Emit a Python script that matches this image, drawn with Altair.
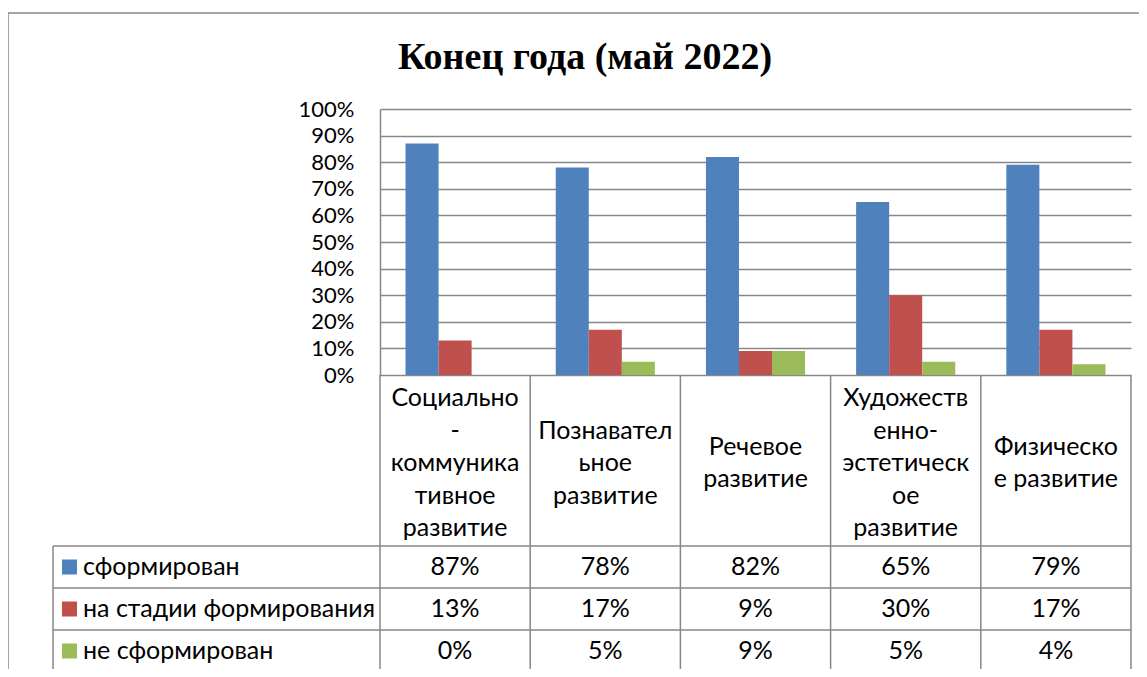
import altair as alt
import pandas as pd

# ---------------- data ----------------
categories = [
    "Социально-коммуникативное развитие",
    "Познавательное развитие",
    "Речевое развитие",
    "Художественно-эстетическое развитие",
    "Физическое развитие",
]
header_labels = [
    "Социально\n-\nкоммуника\nтивное\nразвитие",
    "Познавател\nьное\nразвитие",
    "Речевое\nразвитие",
    "Художеств\nенно-\nэстетическ\nое\nразвитие",
    "Физическо\nе развитие",
]
series = ["сформирован", "на стадии формирования", "не сформирован"]
formed = [87, 78, 82, 65, 79]
forming = [13, 17, 9, 30, 17]
not_formed = [0, 5, 9, 5, 4]
y_ticks = [0, 0.1, 0.2, 0.3, 0.4, 0.5, 0.6, 0.7, 0.8, 0.9, 1.0]
title_text = "Конец года (май 2022)"

colors = ["#4F81BD", "#C0504D", "#9BBB59"]

rows = []
for s, vals in zip(series, [formed, forming, not_formed]):
    for c, v in zip(categories, vals):
        rows.append({"category": c, "series": s, "value": v / 100, "label": f"{v}%"})
df = pd.DataFrame(rows)

# ---------------- layout (pixels, relative to plot area) ----------------
W, H = 751, 266
TABLE_LEFT = -327
ROW_TOP, ROW_H = 437, 42
TABLE_BOTTOM = ROW_TOP + 3 * ROW_H
HEADER_MID = 354
LINE_H = 32.5
GRID = "#878787"
FONT = "Lato"
FS = 25

df_head = pd.DataFrame({"category": categories, "header": header_labels})
# vertical centring of the multi-line header block
df_head["ypos"] = [HEADER_MID - (h.count("\n")) * LINE_H / 2 for h in header_labels]
df_series = pd.DataFrame({"series": series})

xscale = alt.Scale(domain=categories, paddingInner=0.34, paddingOuter=0.17)
X = alt.X("category:N", scale=xscale, axis=None, sort=categories)
row_scale = alt.Scale(domain=series, range=[ROW_TOP, TABLE_BOTTOM], paddingInner=0, paddingOuter=0)
Yrow = alt.Y("series:N", scale=row_scale, axis=None, sort=series)
color = alt.Color("series:N", scale=alt.Scale(domain=series, range=colors), legend=None)

bars = alt.Chart(df).mark_bar().encode(
    x=X,
    xOffset=alt.XOffset("series:N", sort=series, scale=alt.Scale(domain=series)),
    y=alt.Y(
        "value:Q",
        scale=alt.Scale(domain=[0, 1], nice=False),
        axis=alt.Axis(
            values=y_ticks, format=".0%", grid=True, gridColor=GRID, gridWidth=1.5,
            domainColor=GRID, domainWidth=1.5, ticks=False, labelFont=FONT,
            labelFontSize=22, labelColor="black", labelPadding=26, title=None,
        ),
    ),
    color=color,
)

# table lines
hlines = pd.DataFrame({"ypos": [ROW_TOP + i * ROW_H for i in range(4)]})
h_rules = alt.Chart(hlines).mark_rule(color=GRID, strokeWidth=1.5).encode(
    y=alt.Y("ypos:Q", scale=None), x=alt.value(TABLE_LEFT), x2=alt.value(W)
)
col_rules = alt.Chart(df_head).mark_rule(color=GRID, strokeWidth=1.5, xOffset=W / 10).encode(
    x=X, y=alt.value(H), y2=alt.value(TABLE_BOTTOM)
)
one = df_head.head(1)
left_rule = alt.Chart(one).mark_rule(color=GRID, strokeWidth=1.5).encode(
    x=alt.value(0), y=alt.value(H), y2=alt.value(TABLE_BOTTOM)
)
label_left_rule = alt.Chart(one).mark_rule(color=GRID, strokeWidth=1.5).encode(
    x=alt.value(TABLE_LEFT), y=alt.value(ROW_TOP), y2=alt.value(TABLE_BOTTOM)
)
frame_top = alt.Chart(one).mark_rule(color=GRID, strokeWidth=1.5).encode(
    x=alt.value(-372), x2=alt.value(800), y=alt.value(-96)
)
frame_left = alt.Chart(one).mark_rule(color=GRID, strokeWidth=1.5).encode(
    x=alt.value(-372), y=alt.value(-96), y2=alt.value(600)
)

headers = alt.Chart(df_head).mark_text(
    font=FONT, fontSize=FS, lineBreak="\n", lineHeight=LINE_H, baseline="middle", color="black"
).encode(x=X, y=alt.Y("ypos:Q", scale=None), text="header:N")

cells = alt.Chart(df).mark_text(font=FONT, fontSize=FS, color="black", baseline="middle").encode(
    x=X, y=Yrow, text="label:N"
)

legend_sq = alt.Chart(df_series).mark_square(size=225, opacity=1).encode(
    x=alt.value(-310.5), y=Yrow, color=color
)
legend_txt = alt.Chart(df_series).mark_text(
    font=FONT, fontSize=FS, align="left", baseline="middle", color="black"
).encode(x=alt.value(-297), y=Yrow, text="series:N")

title = alt.Chart(pd.DataFrame({"t": [title_text]})).mark_text(
    font="Liberation Serif", fontSize=38, fontWeight="bold", baseline="alphabetic", color="black"
).encode(x=alt.value(205), y=alt.value(-40), text="t:N")

chart = alt.layer(
    bars, h_rules, col_rules, left_rule, label_left_rule, frame_top, frame_left,
    headers, cells, legend_sq, legend_txt, title,
).resolve_scale(y="independent").properties(
    width=W, height=H, autosize="none",
    padding={"left": 372, "top": 101, "right": 8, "bottom": 294},
    background="white",
).configure_view(stroke=None)

chart.save("out.html", embed_options={"renderer": "svg", "actions": False})
